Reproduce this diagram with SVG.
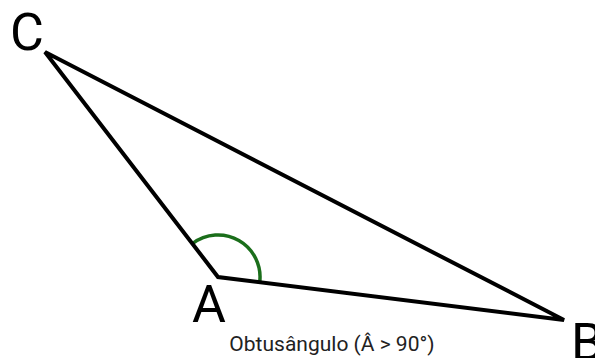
<svg xmlns="http://www.w3.org/2000/svg" width="595" height="358" viewBox="0 0 595 358">
<style>
.edge{fill:none;stroke:#000;stroke-width:4;stroke-linejoin:miter}
.arc{fill:none;stroke:#1b6e1b;stroke-width:3.5}
.lbl{font-family:Roboto,"Liberation Sans",sans-serif;font-size:52px;fill:#000}
.cap{font-family:Roboto,"Liberation Sans",sans-serif;font-size:21px;fill:#222}
</style>
<rect width="595" height="358" fill="#fff"/>
<g id="angle">
<path class="arc" d="M192.4 243.7 A42 42 0 0 1 259.7 282.2"/>
</g>
<g id="edges">
<polygon class="edge" points="45,52 218,277 564,320"/>
</g>
<g id="C"><text class="lbl" x="10" y="50">C</text></g>
<g id="A"><text class="lbl" x="192" y="322">A</text></g>
<g id="B"><text class="lbl" x="571" y="360">B</text></g>
<g id="caption"><text class="cap" x="332" y="351" text-anchor="middle">Obtusângulo (Â &gt; 90°)</text></g>
</svg>
